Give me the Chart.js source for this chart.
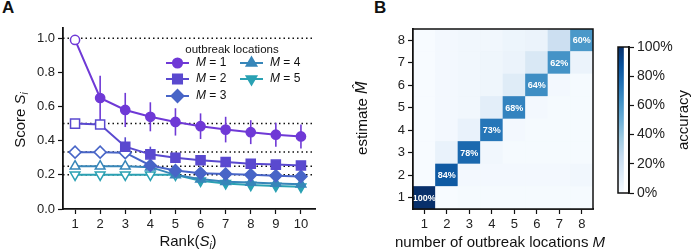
<!DOCTYPE html>
<html>
<head>
<meta charset="utf-8">
<script src="https://cdn.jsdelivr.net/npm/chart.js@4.4.1/dist/chart.umd.min.js"></script>
<style>
  body { margin: 0; background: #fff; width: 693px; height: 252px; position: relative; overflow: hidden;
         font-family: "Liberation Sans", Arial, sans-serif; }
  canvas { position: absolute; top: 0; }
  #chartA { left: 0; }
  #chartB { left: 340px; }
  #cbar { left: 600px; }
  .panel { position: absolute; top: -2px; font-weight: bold; font-size: 17px; color: #111; }
</style>
</head>
<body>
<div class="panel" style="left:2px">A</div>
<div class="panel" style="left:374px">B</div>
<canvas id="chartA" width="340" height="252"></canvas>
<canvas id="chartB" width="300" height="252"></canvas>
<canvas id="cbar" width="93" height="252"></canvas>
<script>
// ---- panel A data: score of the i-th ranked node ----
const ranks = [1, 2, 3, 4, 5, 6, 7, 8, 9, 10];
const scoreM1 = [0.99, 0.65, 0.58, 0.54, 0.51, 0.485, 0.465, 0.45, 0.435, 0.425];
const scoreM2 = [0.50, 0.495, 0.365, 0.32, 0.30, 0.285, 0.275, 0.265, 0.26, 0.255];
const scoreM3 = [0.333, 0.333, 0.33, 0.255, 0.225, 0.21, 0.205, 0.20, 0.195, 0.19];
const scoreM4 = [0.25, 0.25, 0.25, 0.245, 0.20, 0.175, 0.16, 0.155, 0.15, 0.145];
const scoreM5 = [0.20, 0.20, 0.20, 0.20, 0.20, 0.165, 0.15, 0.14, 0.135, 0.13];
const errM1 = [0, 0.13, 0.10, 0.085, 0.08, 0.075, 0.075, 0.07, 0.07, 0.07];
const errM2 = [0, 0, 0.055, 0.045, 0.03, 0.02, 0.02, 0.02, 0.02, 0.02];
const errM3 = [0, 0, 0, 0.03, 0.02, 0.02, 0.015, 0.015, 0.015, 0.015];
const errM4 = [0, 0, 0, 0.02, 0.015, 0.012, 0.012, 0.01, 0.01, 0.01];
const errM5 = [0, 0, 0, 0, 0.012, 0.012, 0.01, 0.01, 0.01, 0.01];
const refLevels = [1, 0.5, 1 / 3, 0.25, 0.2];
const scoreTicks = [0, 0.2, 0.4, 0.6, 0.8, 1.0];

// ---- panel B data: accuracy[row = estimate][col = true M], in % ----
const locations = [1, 2, 3, 4, 5, 6, 7, 8];
const estimates = [1, 2, 3, 4, 5, 6, 7, 8];
const accuracy = [
  [100, 0, 1, 1, 1, 1, 1, 1],
  [0, 84, 2, 2, 2, 2, 2, 3],
  [0, 7, 78, 3, 1, 1, 1, 1],
  [0, 2, 7, 73, 2, 1, 1, 1],
  [0, 2, 3, 10, 68, 2, 1, 1],
  [0, 2, 3, 4, 12, 64, 2, 1],
  [0, 2, 3, 4, 6, 15, 62, 6],
  [0, 2, 3, 3, 5, 6, 22, 60]
];
const cbarTicks = [0, 20, 40, 60, 80, 100];

Chart.defaults.font.family = '"Liberation Sans", Arial, sans-serif';
Chart.defaults.color = '#222';

const FONT = '"Liberation Sans", Arial, sans-serif';
const colors = ['#6f39d6', '#5a49cf', '#4865c7', '#3786b9', '#2aa1b3'];
const styles = ['circle', 'rect', 'rectRot', 'triangle', 'triangle'];
const radii = [4.6, 6.4, 6, 5.6, 5.6];
const rotations = [0, 0, 0, 0, 180];
const scores = [scoreM1, scoreM2, scoreM3, scoreM4, scoreM5];
const errs = [errM1, errM2, errM3, errM4, errM5];

// draws a run of text pieces (with italic / subscript parts), centred on x,y
function richText(ctx, parts, x, y, angle) {
  ctx.save();
  ctx.translate(x, y);
  ctx.rotate(angle || 0);
  ctx.textBaseline = 'middle';
  ctx.textAlign = 'left';
  let w = 0;
  parts.forEach(p => { ctx.font = p.font; p.w = ctx.measureText(p.t).width; w += p.w; });
  let cx = -w / 2;
  parts.forEach(p => { ctx.font = p.font; ctx.fillStyle = '#111'; ctx.fillText(p.t, cx, p.dy || 0); cx += p.w; });
  ctx.restore();
}

function axisStyle(size, fmt) {
  const ticks = { font: { size: size }, color: '#222', padding: 3, maxRotation: 0 };
  if (fmt) ticks.callback = fmt;
  return {
    ticks: ticks,
    grid: { drawOnChartArea: false, tickLength: 5, color: '#111', tickWidth: 1.2, offset: false },
    border: { color: '#111', width: 1.8 }
  };
}

const panelA = {
  id: 'panelA',
  beforeDatasetsDraw(chart) {
    const { ctx, chartArea: a, scales: { x, y } } = chart;
    ctx.save();
    ctx.strokeStyle = '#111';
    ctx.lineWidth = 1.5;
    ctx.setLineDash([1.5, 3]);
    refLevels.forEach(v => {
      const py = y.getPixelForValue(v);
      ctx.beginPath(); ctx.moveTo(a.left, py); ctx.lineTo(a.right, py); ctx.stroke();
    });
    ctx.setLineDash([]);
    errs.forEach((e, k) => {
      ctx.strokeStyle = colors[k];
      ctx.lineWidth = 1.6;
      e.forEach((d, i) => {
        if (!d) return;
        const px = x.getPixelForValue(ranks[i]);
        ctx.beginPath();
        ctx.moveTo(px, y.getPixelForValue(scores[k][i] - d));
        ctx.lineTo(px, y.getPixelForValue(scores[k][i] + d));
        ctx.stroke();
      });
    });
    ctx.restore();
  },
  afterDraw(chart) {
    const ctx = chart.ctx;
    // axis titles
    richText(ctx, [
      { t: 'Score ', font: '15px ' + FONT },
      { t: 'S', font: 'italic 15px ' + FONT },
      { t: 'i', font: 'italic 10px ' + FONT, dy: 4 }
    ], 21, 120, -Math.PI / 2);
    richText(ctx, [
      { t: 'Rank(', font: '15px ' + FONT },
      { t: 'S', font: 'italic 15px ' + FONT },
      { t: 'i', font: 'italic 10px ' + FONT, dy: 4 },
      { t: ')', font: '15px ' + FONT }
    ], 188, 242);
    // legend
    ctx.save();
    ctx.fillStyle = '#111';
    ctx.font = '11.5px ' + FONT;
    ctx.textAlign = 'center';
    ctx.textBaseline = 'middle';
    ctx.fillText('outbreak locations', 232, 50);
    const pos = [[166, 63], [166, 79], [166, 96], [240, 63], [240, 79]];
    pos.forEach((p, k) => {
      ctx.strokeStyle = colors[k];
      ctx.lineWidth = 2;
      ctx.beginPath(); ctx.moveTo(p[0], p[1]); ctx.lineTo(p[0] + 23, p[1]); ctx.stroke();
      ctx.fillStyle = colors[k];
      Chart.helpers.drawPoint(ctx, { pointStyle: styles[k], radius: radii[k], rotation: rotations[k], borderWidth: 1 }, p[0] + 11.5, p[1]);
      ctx.fill();
      ctx.textAlign = 'left';
      ctx.fillStyle = '#111';
      ctx.font = 'italic 12px ' + FONT;
      ctx.fillText('M', p[0] + 30, p[1]);
      const mw = ctx.measureText('M').width;
      ctx.font = '12px ' + FONT;
      ctx.fillText(' = ' + (k + 1), p[0] + 30 + mw, p[1]);
    });
    ctx.restore();
  }
};

new Chart(document.getElementById('chartA'), {
  type: 'line',
  data: {
    datasets: scores.map((s, k) => ({
      label: 'M=' + (k + 1),
      data: ranks.map((r, i) => ({ x: r, y: s[i] })),
      borderColor: colors[k],
      borderWidth: 2,
      pointStyle: styles[k],
      pointRadius: radii[k],
      pointRotation: rotations[k],
      pointBorderWidth: 1.5,
      pointBorderColor: colors[k],
      pointBackgroundColor: ranks.map(r => (r <= k + 1 ? '#fff' : colors[k])),
      order: k
    }))
  },
  options: {
    responsive: false,
    animation: false,
    layout: { padding: { top: 28, right: 25, left: 0, bottom: 0 } },
    plugins: { legend: { display: false }, tooltip: { enabled: false } },
    scales: {
      x: Object.assign(axisStyle(13), {
        type: 'linear', min: 0.52, max: 10.56,
        afterBuildTicks: s => { s.ticks = ranks.map(v => ({ value: v })); },
        afterFit: s => { s.height = 43; }
      }),
      y: Object.assign(axisStyle(13, v => v.toFixed(1)), {
        type: 'linear', min: 0, max: 1.06,
        afterBuildTicks: s => { s.ticks = scoreTicks.map(v => ({ value: v })); },
        afterFit: s => { s.width = 63; }
      })
    }
  },
  plugins: [panelA]
});

// ---- Blues colour map ----
const bluesStops = ['#f7fbff', '#deebf7', '#c6dbef', '#9ecae1', '#6baed6', '#4292c6', '#2171b5', '#08519c', '#08306b'];
function hexRgb(h) { return [1, 3, 5].map(i => parseInt(h.substr(i, 2), 16)); }
function blues(t) {
  t = Math.max(0, Math.min(1, t));
  const p = t * 8, i = Math.min(7, Math.floor(p)), f = p - i;
  const a = hexRgb(bluesStops[i]), b = hexRgb(bluesStops[i + 1]);
  return 'rgb(' + a.map((v, j) => Math.round(v + (b[j] - v) * f)).join(',') + ')';
}

const panelB = {
  id: 'panelB',
  afterDatasetsDraw(chart) {
    const ctx = chart.ctx;
    ctx.save();
    ctx.fillStyle = '#fff';
    ctx.font = 'bold 9px ' + FONT;
    ctx.textAlign = 'center';
    ctx.textBaseline = 'middle';
    estimates.forEach((e, r) => {
      locations.forEach((m, c) => {
        if (e !== m) return;
        const el = chart.getDatasetMeta(r).data[c];
        ctx.fillText(accuracy[r][c] + '%', el.x, (el.y + el.base) / 2 + 0.5);
      });
    });
    ctx.restore();
  },
  afterDraw(chart) {
    const { ctx, chartArea: a } = chart;
    ctx.save();
    ctx.strokeStyle = '#111';
    ctx.lineWidth = 1.5;
    ctx.strokeRect(a.left, a.top, a.right - a.left, a.bottom - a.top);
    ctx.restore();
    richText(ctx, [
      { t: 'estimate ', font: '15px ' + FONT },
      { t: 'M\u0302', font: 'oblique 15px "DejaVu Sans"' }
    ], 23, 118, -Math.PI / 2);
    richText(ctx, [
      { t: 'number of outbreak locations ', font: '15px ' + FONT },
      { t: 'M', font: 'italic 15px ' + FONT }
    ], 160, 243);
  }
};

new Chart(document.getElementById('chartB'), {
  type: 'bar',
  data: {
    labels: locations.map(String),
    datasets: estimates.map((e, r) => ({
      data: locations.map(() => [e - 0.5, e + 0.5]),
      backgroundColor: accuracy[r].map(v => blues(v / 100)),
      borderWidth: 0,
      grouped: false,
      barPercentage: 1,
      categoryPercentage: 1
    }))
  },
  options: {
    responsive: false,
    animation: false,
    layout: { padding: { top: 29, right: 47, left: 0, bottom: 0 } },
    plugins: { legend: { display: false }, tooltip: { enabled: false } },
    scales: {
      x: Object.assign(axisStyle(13), {
        type: 'category', offset: true,
        afterFit: s => { s.height = 43; }
      }),
      y: Object.assign(axisStyle(13), {
        type: 'linear', min: 0.5, max: 8.5,
        afterBuildTicks: s => { s.ticks = estimates.map(v => ({ value: v })); },
        afterFit: s => { s.width = 73; }
      })
    }
  },
  plugins: [panelB]
});

// ---- colour bar ----
const cbarPlugin = {
  id: 'cbarBox',
  afterDraw(chart) {
    const { ctx, chartArea: a } = chart;
    ctx.save();
    ctx.strokeStyle = '#111';
    ctx.lineWidth = 1.5;
    ctx.strokeRect(a.left, a.top, a.right - a.left, a.bottom - a.top);
    ctx.restore();
    richText(ctx, [{ t: 'accuracy', font: '15px ' + FONT }], 84, 120, -Math.PI / 2);
  }
};

new Chart(document.getElementById('cbar'), {
  type: 'bar',
  data: {
    labels: [''],
    datasets: [{
      data: [[cbarTicks[0], cbarTicks[cbarTicks.length - 1]]],
      borderWidth: 0,
      barPercentage: 1,
      categoryPercentage: 1,
      backgroundColor: c => {
        const a = c.chart.chartArea;
        if (!a) return '#ccc';
        const g = c.chart.ctx.createLinearGradient(0, a.bottom, 0, a.top);
        bluesStops.forEach((s, i) => g.addColorStop(i / 8, s));
        return g;
      }
    }]
  },
  options: {
    responsive: false,
    animation: false,
    layout: { padding: { top: 47, left: 18, right: 0, bottom: 59 } },
    plugins: { legend: { display: false }, tooltip: { enabled: false } },
    scales: {
      x: { display: false, offset: false },
      y: Object.assign(axisStyle(14, v => v + '%'), {
        position: 'right', min: 0, max: 100,
        afterBuildTicks: s => { s.ticks = cbarTicks.map(v => ({ value: v })); },
        afterFit: s => { s.width = 64; }
      })
    }
  },
  plugins: [cbarPlugin]
});
</script>
</body>
</html>
